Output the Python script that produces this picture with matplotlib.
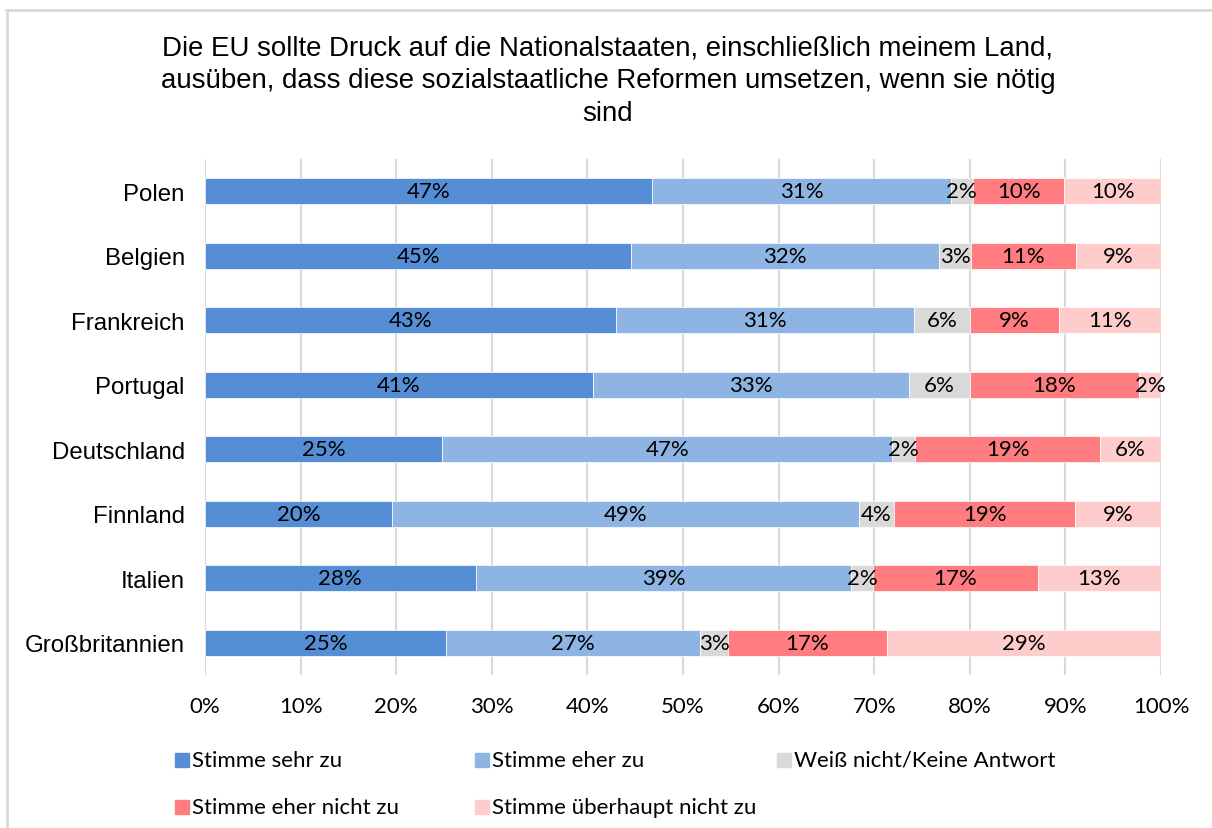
import matplotlib
matplotlib.use("Agg")
import matplotlib.pyplot as plt
from matplotlib.patches import Rectangle
from matplotlib.lines import Line2D

countries = ["Polen", "Belgien", "Frankreich", "Portugal", "Deutschland",
             "Finnland", "Italien", "Großbritannien"]
series_names = ["Stimme sehr zu", "Stimme eher zu", "Weiß nicht/Keine Antwort",
                "Stimme eher nicht zu", "Stimme überhaupt nicht zu"]
sehr_zu = [46.8, 44.6, 43.0, 40.6, 24.8, 19.6, 28.3, 25.2]
eher_zu = [31.2, 32.2, 31.2, 33.0, 47.1, 48.8, 39.3, 26.6]
weiss_nicht = [2.3, 3.3, 5.8, 6.4, 2.4, 3.7, 2.3, 2.9]
eher_nicht = [9.6, 11.0, 9.3, 17.7, 19.3, 18.9, 17.2, 16.6]
ueberhaupt_nicht = [10.1, 8.9, 10.7, 2.3, 6.4, 9.0, 12.9, 28.7]
series = [sehr_zu, eher_zu, weiss_nicht, eher_nicht, ueberhaupt_nicht]
colors = ["#558ED5", "#8DB4E2", "#D9D9D9", "#FF7C80", "#FFCCCC"]
x_ticks = [0, 10, 20, 30, 40, 50, 60, 70, 80, 90, 100]
title = ("Die EU sollte Druck auf die Nationalstaaten, einschließlich meinem Land,\n"
         "ausüben, dass diese sozialstaatliche Reformen umsetzen, wenn sie nötig\n"
         "sind")

W, H = 1212, 829
fig = plt.figure(figsize=(W / 100, H / 100), dpi=100)
ax = fig.add_axes([205 / W, 1 - 676 / H, (1161 - 205) / W, (676 - 160) / H])

calibri = ["Lato", "DejaVu Sans"]
arial = ["Liberation Sans", "DejaVu Sans"]

y = list(range(len(countries)))
left = [0.0] * len(countries)
for vals, col in zip(series, colors):
    ax.barh(y, vals, left=left, height=0.4, color=col, edgecolor="white",
            linewidth=0.5, zorder=3)
    for yi, (l, v) in enumerate(zip(left, vals)):
        ax.text(l + v / 2, yi, f"{v:.0f}%", ha="center", va="center",
                fontsize=16, family=calibri, color="#000000", zorder=4)
    left = [l + v for l, v in zip(left, vals)]

ax.set_xlim(0, 100)
ax.set_ylim(len(countries) - 0.5, -0.5)
ax.set_xticks(x_ticks)
ax.set_xticklabels([f"{t}%" for t in x_ticks], family=calibri, fontsize=16)
ax.set_yticks(y)
ax.set_yticklabels(countries, family=arial, fontsize=17.3)
ax.tick_params(axis="both", length=0)
ax.tick_params(axis="x", pad=15)
ax.tick_params(axis="y", pad=14.5)
ax.grid(axis="x", color="#D9D9D9", linewidth=1.5, zorder=0)
for s in ax.spines.values():
    s.set_visible(False)

fig.text(608 / W, 1 - 81 / H, title, ha="center", va="center",
         family=arial, fontsize=19.9, linespacing=1.33)

# legend
leg_pos = [(175, 761), (475, 761), (777, 761), (175, 808), (475, 808)]
for (lx, ly), name, col in zip(leg_pos, series_names, colors):
    fig.patches.append(Rectangle((lx / W, 1 - (ly + 7) / H), 14 / W, 14 / H,
                                 transform=fig.transFigure, color=col))
    fig.text((lx + 17) / W, 1 - ly / H, name, ha="left", va="center",
             family=calibri, fontsize=16)

# chart frame (top and left edge)
fig.add_artist(Line2D([6 / W, 1], [1 - 10.5 / H, 1 - 10.5 / H],
                      transform=fig.transFigure, color="#D9D9D9", linewidth=2))
fig.add_artist(Line2D([6.5 / W, 6.5 / W], [0, 1 - 10.5 / H],
                      transform=fig.transFigure, color="#D9D9D9", linewidth=2))

fig.savefig("out.png", dpi=100)
